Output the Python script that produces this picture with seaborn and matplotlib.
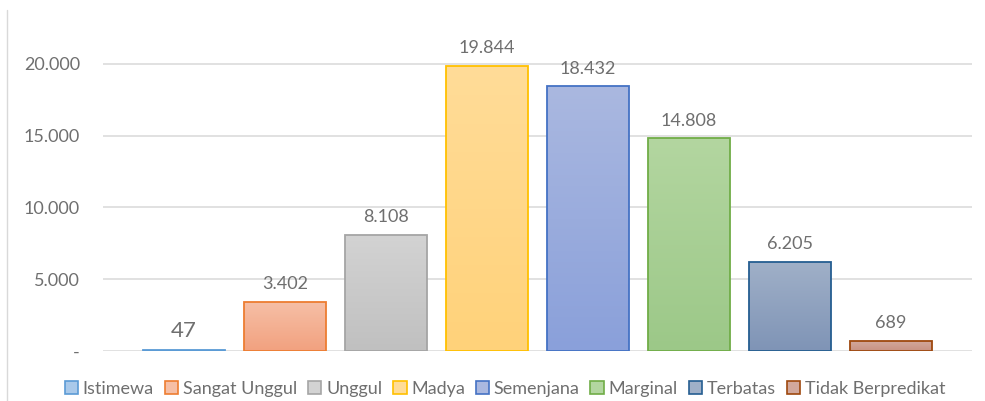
import matplotlib
matplotlib.use("Agg")
import matplotlib.pyplot as plt
import matplotlib.patches as mpatches
from matplotlib.lines import Line2D
from matplotlib.ticker import FuncFormatter
import numpy as np
import pandas as pd
import seaborn as sns

categories = ["Istimewa", "Sangat Unggul", "Unggul", "Madya", "Semenjana",
              "Marginal", "Terbatas", "Tidak Berpredikat"]
values = [47, 3402, 8108, 19844, 18432, 14808, 6205, 689]
fill_top = ["#A9C9EA", "#F6BFA6", "#D3D3D3", "#FFDC98", "#AAB8E0", "#B3D6A0", "#A0B0C8", "#D2A89C"]
fill_bot = ["#8FB6E0", "#F2A17F", "#C0C0C0", "#FFD27A", "#8AA0DA", "#9CC888", "#7F94B6", "#C89282"]
edges = ["#5B9BD5", "#ED7D31", "#A5A5A5", "#FFC000", "#4472C4", "#70AD47", "#255E91", "#9E480E"]

TXT = "#6F6F6F"

def fmt(v):
    return f"{int(v):,}".replace(",", ".")

sns.set_theme(style="white")
plt.rcParams["font.family"] = ["Lato", "DejaVu Sans"]

fig = plt.figure(figsize=(9.85, 4.01), dpi=100)
ax = fig.add_axes([103/985, 1-351/401, (972-103)/985, (351-28)/401])

df = pd.DataFrame({"cat": categories, "val": values})
pal = dict(zip(categories, fill_bot))
sns.barplot(data=df, x="cat", y="val", hue="cat", palette=pal, dodge=False,
            width=0.81, legend=False, ax=ax, zorder=3)

patches = [p for p in ax.patches]
for i, p in enumerate(patches):
    p.set_edgecolor(edges[i])
    p.set_linewidth(1.3)
    x0, y0 = p.get_x(), p.get_y()
    w, h = p.get_width(), p.get_height()
    grad = np.linspace(0, 1, 100).reshape(-1, 1)
    c1 = np.array(matplotlib.colors.to_rgb(fill_bot[i]))
    c2 = np.array(matplotlib.colors.to_rgb(fill_top[i]))
    img = c1[None, None, :] * (1 - grad[..., None]) + c2[None, None, :] * grad[..., None]
    im = ax.imshow(img, extent=[x0, x0 + w, y0, y0 + h], origin="lower",
                   aspect="auto", zorder=2.9)
    im.set_clip_path(p)
    p.set_facecolor("none")

ax.set_xlim(-0.8, 7.8)
ax.set_ylim(0, 22500)
ax.set_yticks([0, 5000, 10000, 15000, 20000])
ax.yaxis.set_major_formatter(FuncFormatter(lambda v, pos: "-" if v == 0 else fmt(v)))
ax.grid(axis="y", color="#D9D9D9", linewidth=1.1, zorder=0)
ax.set_axisbelow(True)
ax.set_xticks([])
ax.set_xlabel("")
ax.set_ylabel("")
for s in ax.spines.values():
    s.set_visible(False)
ax.tick_params(axis="y", length=0, pad=16.5, labelsize=13, labelcolor=TXT)

for i, v in enumerate(values):
    fs = 16 if i == 0 else 13
    ax.annotate(fmt(v), (i, v), xytext=(0, 7), textcoords="offset points",
                ha="center", va="bottom", fontsize=fs, color=TXT)

handles = [mpatches.Patch(facecolor=fill_top[i], edgecolor=edges[i], linewidth=1.2, label=c)
           for i, c in enumerate(categories)]
fig.legend(handles=handles, loc="center", bbox_to_anchor=(505/985, 1-389/401), ncol=8,
           frameon=False, fontsize=13, labelcolor=TXT, handlelength=0.75,
           handleheight=0.75, handletextpad=0.25, columnspacing=0.6)

fig.add_artist(Line2D([7/985, 7/985], [0, 1-10/401], transform=fig.transFigure,
                      color="#D9D9D9", linewidth=1))

fig.savefig("out.png", dpi=100)
